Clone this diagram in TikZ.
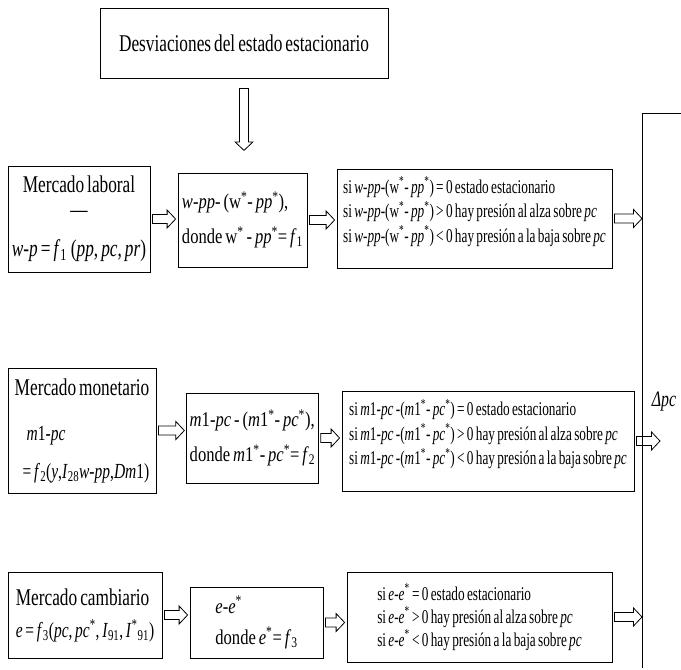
\documentclass[tikz,border=0pt]{standalone}
\usepackage{fontspec}
\setmainfont[FakeStretch=0.72, WordSpace=0.7]{Liberation Serif}
\newfontfamily\condFont[FakeStretch=0.68, WordSpace=0.7]{Liberation Serif}
\newfontfamily\devFont[FakeStretch=0.79, WordSpace=0.7]{Liberation Serif}
\usetikzlibrary{calc}

\def\spineX{642}
\def\mktSize{\fontsize{24}{27}\selectfont}
\def\devSize{\devFont\fontsize{21}{35}\selectfont}
\def\condSize{\condFont\fontsize{19.5}{24.5}\selectfont}
\newcommand{\sstar}{\textsuperscript{*}}
\newcommand{\condLines}[1]{si #1 = 0 estado estacionario\\
  si #1 > 0 hay presión al alza sobre \textit{pc}\\
  si #1 < 0 hay presión a la baja sobre \textit{pc}}

\tikzset{
  box/.style={draw, line width=0.8pt, inner sep=3pt},
  fat/.style={line width=0.8pt, to path={
    let \p1=(\tikztostart), \p2=(\tikztotarget),
        \n1={atan2(\y2-\y1,\x2-\x1)}, \n2={veclen(\x2-\x1,\y2-\y1)}
    in [shift={(\p1)}, rotate=\n1]
    (0pt,4.5pt) -- ({\n2*1pt-8.5pt},4.5pt) -- ({\n2*1pt-8.5pt},9pt) -- ({\n2*1pt},0pt)
    -- ({\n2*1pt-8.5pt},-9pt) -- ({\n2*1pt-8.5pt},-4.5pt) -- (0pt,-4.5pt) -- cycle}}
}

\begin{document}
\begin{tikzpicture}[x=1pt,y=-1pt]
    \useasboundingbox (0,0) rectangle (681,670);

    \node[box, minimum width=288pt, minimum height=70pt, font=\mktSize] (title) at (244,43) {Desviaciones del estado estacionario};
    \draw[fat] ($(title.south)+(0pt,-10pt)$) to ($(title.south)+(0pt,-72pt)$);

    % mercado laboral
    \node[box, minimum width=142pt, minimum height=106pt, align=center, font=\mktSize] (labMarket) at (79,219)
      {Mercado laboral\\[-2pt] ---\\[12pt] \textit{w}-\textit{p} = \textit{f}\textsubscript{1}\,(\textit{pp}, \textit{pc}, \textit{pr})};
    \node[box, minimum width=129pt, minimum height=94pt, align=left, font=\devSize] (labDev) at (242.5,220)
      {\textit{w}-\textit{pp}- (w\sstar- \textit{pp}\sstar),\\ donde w\sstar\ - \textit{pp}\sstar= \textit{f}\textsubscript{1}};
    \node[box, minimum width=275pt, minimum height=99pt, text depth=18pt, align=left, font=\condSize] (labCond) at (474.5,218.5)
      {\condLines{\textit{w}-\textit{pp}-(w\sstar- \textit{pp}\sstar)}};

    % mercado monetario
    \node[box, minimum width=148pt, minimum height=125pt, align=left, font=\mktSize] (monMarket) at (82,430.5)
      {Mercado monetario\\[18pt]
       \hspace*{12pt}{\fontsize{21.5}{27}\selectfont\textit{m}1-\textit{pc}}\\[11pt]
       \hspace*{8pt}{\fontsize{21.5}{27}\selectfont= \textit{f}\textsubscript{2}(\textit{y},\textit{I}\textsubscript{28}\textit{w-pp},\textit{Dm}1)}};
    \node[box, minimum width=131pt, minimum height=90pt, align=left, font=\devSize] (monDev) at (252.5,438)
      {\textit{m}1-\textit{pc} - (\textit{m}1\sstar- \textit{pc}\sstar),\\ donde \textit{m}1\sstar- \textit{pc}\sstar= \textit{f}\textsubscript{2}};
    \node[box, minimum width=292pt, minimum height=100pt, text depth=18pt, align=left, font=\condSize] (monCond) at (488,441)
      {\condLines{\textit{m}1-\textit{pc} -(\textit{m}1\sstar- \textit{pc}\sstar)}};

    % mercado cambiario
    \node[box, minimum width=154pt, minimum height=86pt, align=left, font=\mktSize] (camMarket) at (85,615)
      {Mercado cambiario\\[5pt]
       {\fontsize{21.5}{27}\selectfont\textit{e} = \textit{f}\textsubscript{3}(\textit{pc}, \textit{pc}\sstar, \textit{I}\textsubscript{91}, \textit{I}\sstar\textsubscript{91})}};
    \node[box, minimum width=133pt, minimum height=71pt, align=left, font=\devFont\fontsize{21}{31}\selectfont] (camDev) at (256.5,622.5)
      {\textit{e}-\textit{e}\sstar\\ donde \textit{e}\sstar= \textit{f}\textsubscript{3}};
    \node[box, minimum width=265pt, minimum height=90pt, align=left, font=\condFont\fontsize{19.5}{23}\selectfont] (camCond) at (479.5,617)
      {\condLines{\textit{e}-\textit{e}\sstar}};

    \foreach \a/\b in {labMarket/labDev, labDev/labCond, monMarket/monDev, monDev/monCond, camMarket/camDev, camDev/camCond} {
      \draw[fat] ($(\a.east)+(2pt,0pt)$) to ($(\a.east -| \b.west)+(-2pt,0pt)$);
    }

    % variacion de pc
    \coordinate (spineTop) at (\spineX,113);
    \coordinate (spineEnd) at (\spineX,668);
    \coordinate (spineTick) at (681,113);
    \draw[line width=0.8pt] (spineTick) -- (spineTop) -- (spineEnd);
    \foreach \c/\ext in {labCond/0, monCond/18, camCond/0} {
      \draw[fat] ($(\c.east)+(2pt,0pt)$) to ($(\c.east -| spineTop)+(\ext pt,0pt)$);
    }
    \node[font=\fontsize{22}{24}\selectfont] (deltaPc) at (664,402) {\textit{Δpc}};
  \end{tikzpicture}
\end{document}
